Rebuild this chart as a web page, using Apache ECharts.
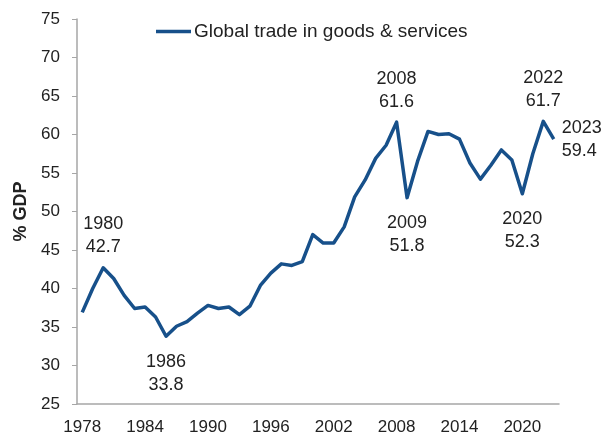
<!DOCTYPE html>
<html>
<head>
<meta charset="utf-8">
<style>
  html, body { margin: 0; padding: 0; background: #fff; }
  #chart { width: 606px; height: 440px; }
</style>
<script src="https://cdn.jsdelivr.net/npm/echarts@6/dist/echarts.min.js"></script>
</head>
<body>
<div id="chart"></div>
<script>
// Global trade in goods & services, % of GDP, 1978-2023
const years = [];
for (let y = 1978; y <= 2023; y++) years.push(String(y));

const tradeShare = [
  36.9, 40.0, 42.7, 41.3, 39.1, 37.4, 37.6, 36.3, 33.8, 35.1,
  35.7, 36.8, 37.8, 37.4, 37.6, 36.6, 37.7, 40.4, 42.0, 43.2,
  43.0, 43.5, 47.0, 45.9, 45.9, 48.0, 51.9, 54.1, 56.9, 58.6,
  61.6, 51.8, 56.5, 60.4, 60.0, 60.1, 59.4, 56.3, 54.2, 56.0,
  58.0, 56.7, 52.3, 57.5, 61.7, 59.4
];

// Annotated years and where their "year / value" label sits
const callouts = [
  { year: '1980', position: 'top' },
  { year: '1986', position: 'bottom' },
  { year: '2008', position: 'top' },
  { year: '2009', position: 'bottom' },
  { year: '2020', position: 'bottom' },
  { year: '2022', position: 'top' },
  { year: '2023', position: 'right' }
];

const seriesName = 'Global trade in goods & services';
const FONT = '"Liberation Sans", Arial, Helvetica, sans-serif';
const LINE_COLOR = '#17508a';
const TEXT_COLOR = '#222222';

const labelDistance = { top: 9, bottom: 14, right: 8 };

const seriesData = tradeShare.map((v, i) => {
  const c = callouts.find(o => o.year === years[i]);
  if (!c) return v;
  return {
    value: v,
    label: {
      show: true,
      position: c.position,
      distance: labelDistance[c.position],
      align: c.position === 'right' ? 'left' : 'center',
      formatter: p => p.name + '\n' + Number(p.value).toFixed(1),
      fontFamily: FONT,
      fontSize: 18,
      lineHeight: 23,
      color: TEXT_COLOR
    }
  };
});

const chart = echarts.init(document.getElementById('chart'), null, { renderer: 'canvas' });
chart.setOption({
  animation: false,
  backgroundColor: '#ffffff',
  grid: { left: 77, right: 47, top: 19, bottom: 36, containLabel: false },
  legend: {
    left: 151,
    top: 17,
    icon: 'rect',
    itemWidth: 35,
    itemHeight: 3.5,
    itemGap: 10,
    textStyle: { fontFamily: FONT, fontSize: 19, color: TEXT_COLOR, padding: [0, 0, 0, -2] },
    data: [seriesName]
  },
  xAxis: {
    type: 'category',
    data: years,
    boundaryGap: true,
    axisLine: { lineStyle: { color: '#a6a6a6', width: 1.5 } },
    axisTick: { show: false },
    axisLabel: {
      interval: 5,
      margin: 15,
      fontFamily: FONT,
      fontSize: 17,
      color: TEXT_COLOR
    },
    splitLine: { show: false }
  },
  yAxis: {
    type: 'value',
    min: 25,
    max: 75,
    interval: 5,
    name: '% GDP',
    nameLocation: 'middle',
    nameGap: 43,
    nameTextStyle: { fontFamily: FONT, fontSize: 18, fontWeight: 'bold', color: TEXT_COLOR },
    axisLine: { show: true, lineStyle: { color: '#a6a6a6', width: 1.5 } },
    axisTick: { show: true, length: 5, lineStyle: { color: '#a6a6a6' } },
    axisLabel: { margin: 17, fontFamily: FONT, fontSize: 17, color: TEXT_COLOR },
    splitLine: { show: false }
  },
  series: [{
    name: seriesName,
    type: 'line',
    data: seriesData,
    symbol: 'circle',
    symbolSize: 0.1,
    showSymbol: true,
    showAllSymbol: true,
    lineStyle: { color: LINE_COLOR, width: 3.5, join: 'round' },
    itemStyle: { color: LINE_COLOR }
  }]
});
</script>
</body>
</html>
